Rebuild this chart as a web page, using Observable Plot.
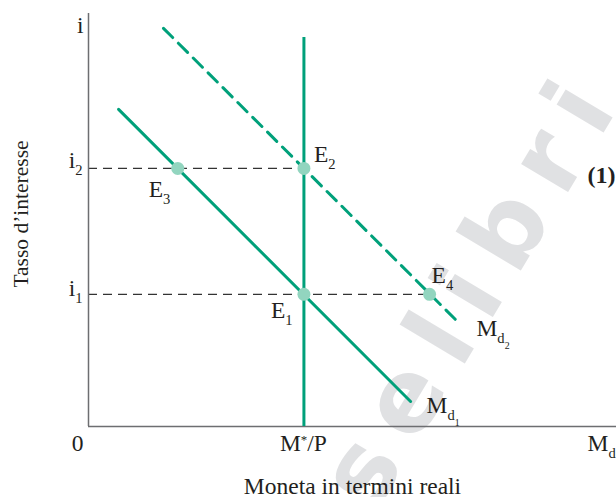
<!DOCTYPE html>
<html>
<head>
<meta charset="utf-8">
<script src="https://cdn.jsdelivr.net/npm/d3@7"></script>
<script src="https://cdn.jsdelivr.net/npm/@observablehq/plot@0.6"></script>
<style>
  html, body { margin: 0; padding: 0; background: #fff; }
  #chart svg { display: block; }
</style>
</head>
<body>
<div id="chart"></div>
<script>
// ---- data (abstract units of the diagram) ----
const curveNames = ["M_d__1", "M_d__2"];
const md1X = [5.7, 61.0];
const md1Y = [76.8, 6.05];
const md2X = [14.2, 69.5];
const md2Y = [96.4, 25.9];
const moneySupply = 40.8;      // M*/P
const supplyTop = 94.2;
const rateLabels = ["i_1", "i_2"];
const rateValues = [32.0, 62.5];
const eqNames = ["E_1", "E_2", "E_3", "E_4"];
const eqX = [40.8, 40.8, 16.9, 64.6];
const eqY = [32.0, 62.5, 62.5, 32.0];
const xTickLabels = ["0", "M^*/P", "M_d"];
const yAxisTop = ["i"];
const panelLabel = ["(1)"];
const xTitle = ["Moneta in termini reali"];
const yTitle = ["Tasso d’interesse"];
const watermark = ["selibri"];

// ---- styles ----
const GREEN = "#00a07a";
const DOT = "#92d5bf";
const AXIS = "#6d6e71";
const INK = "#231f20";
const SERIF = "'Liberation Serif', 'Times New Roman', Times, serif";
const FS = 23.5;

const md1 = md1X.map((x, i) => ({x, y: md1Y[i]}));
const md2 = md2X.map((x, i) => ({x, y: md2Y[i]}));
const eq = eqNames.map((name, i) => ({name, x: eqX[i], y: eqY[i]}));
const rateLines = [
  {y: rateValues[0], x2: eqX[3]},
  {y: rateValues[1], x2: eqX[1]}
];

function lab(x, y, text, dx, dy, anchor = "start", extra = {}) {
  return Plot.text([{x, y, text}], {
    x: "x", y: "y", text: "text", dx, dy,
    textAnchor: anchor, lineAnchor: "bottom",
    fontSize: FS, fontFamily: SERIF, fill: INK, ...extra
  });
}

const chart = Plot.plot({
  width: 616,
  height: 497,
  marginLeft: 88,
  marginRight: 0,
  marginTop: 13,
  marginBottom: 71,
  x: {domain: [0, 100], axis: null},
  y: {domain: [0, 100], axis: null},
  marks: [
    // watermark
    Plot.text(watermark, {
      x: () => 72.9, y: () => 33.7, text: d => d,
      rotate: -59, fontSize: 100, fontWeight: "bold",
      fontFamily: "'DejaVu Sans', sans-serif", fill: "#e0e1e3"
    }),
    // dashed reference lines for interest rates
    Plot.ruleY(rateLines, {
      y: "y", x1: 0, x2: "x2",
      stroke: "#333", strokeWidth: 1.2, strokeDasharray: "9,6"
    }),
    // axes
    Plot.ruleX([0], {y1: 0, y2: 100, stroke: AXIS, strokeWidth: 1.5}),
    Plot.ruleY([0], {x1: 0, x2: 100, stroke: AXIS, strokeWidth: 1.5}),
    // money supply
    Plot.ruleX([moneySupply], {y1: 0, y2: supplyTop, stroke: GREEN, strokeWidth: 3}),
    // money demand curves
    Plot.line(md1, {x: "x", y: "y", stroke: GREEN, strokeWidth: 3}),
    Plot.line(md2, {x: "x", y: "y", stroke: GREEN, strokeWidth: 3, strokeDasharray: "13,8"}),
    // equilibrium points
    Plot.dot(eq, {x: "x", y: "y", r: 6.5, fill: DOT}),
    // equilibrium labels
    lab(eqX[0], eqY[0], eqNames[0], -33, 24),
    lab(eqX[1], eqY[1], eqNames[1], 10, -6),
    lab(eqX[2], eqY[2], eqNames[2], -29, 29),
    lab(eqX[3], eqY[3], eqNames[3], 2, -11),
    // curve labels
    lab(md1X[1], md1Y[1], curveNames[0], 16, 11),
    lab(md2X[1], md2Y[1], curveNames[1], 21, 16),
    // y tick labels
    lab(0, rateValues[0], rateLabels[0], -6, 2, "end"),
    lab(0, rateValues[1], rateLabels[1], -6, 0, "end"),
    lab(0, 100, yAxisTop[0], -5, 19, "end"),
    // x tick labels
    lab(0, 0, xTickLabels[0], -11, 24, "middle"),
    lab(moneySupply, 0, xTickLabels[1], -24, 24, "start"),
    lab(100, 0, xTickLabels[2], -29, 24, "start"),
    // panel label
    Plot.text(panelLabel, {
      frameAnchor: "top-right", text: d => d, dx: -1, dy: 169,
      textAnchor: "end", lineAnchor: "bottom",
      fontSize: 24, fontWeight: "bold", fontFamily: SERIF, fill: INK
    }),
    // axis titles
    Plot.text(xTitle, {
      frameAnchor: "bottom", text: d => d, dy: 67, lineAnchor: "bottom",
      textAnchor: "middle",
      fontSize: FS, fontFamily: SERIF, fill: INK
    }),
    Plot.text(yTitle, {
      frameAnchor: "left", text: d => d, dx: -67, dy: -6, rotate: -90,
      textAnchor: "middle",
      fontSize: 21.5, fontFamily: SERIF, fill: INK
    })
  ]
});

document.getElementById("chart").append(chart);

// ---- rich text: "_" subscript, "__" sub-subscript, "^" superscript ----
const LEVELS = {
  "0": {shift: 0, scale: 1},
  "1": {shift: 7, scale: 0.62},
  "2": {shift: 13, scale: 0.42},
  "-1": {shift: -7, scale: 0.55}
};
function parseRich(s) {
  const out = [];
  let i = 0;
  while (i < s.length) {
    let lvl = 0;
    while (s[i] === "_" || s[i] === "^") { lvl += s[i] === "_" ? 1 : -1; i++; }
    const ch = s[i++];
    if (ch === undefined) break;
    const last = out[out.length - 1];
    if (last && last.lvl === lvl) last.text += ch;
    else out.push({lvl, text: ch});
  }
  return out;
}
d3.select(chart).selectAll("text").each(function () {
  const t = this.textContent;
  if (t === "selibri") { this.setAttribute("letter-spacing", "20"); return; }
  if (!/[_^]/.test(t)) return;
  const base = parseFloat(getComputedStyle(this).fontSize) || FS;
  const parts = parseRich(t);
  this.textContent = "";
  let prev = 0;
  for (const p of parts) {
    const L = LEVELS[String(p.lvl)] || LEVELS["0"];
    const ts = document.createElementNS("http://www.w3.org/2000/svg", "tspan");
    ts.setAttribute("font-size", (base * L.scale).toFixed(2));
    const dy = L.shift - prev;
    if (dy !== 0) ts.setAttribute("dy", dy);
    prev = L.shift;
    ts.textContent = p.text;
    this.appendChild(ts);
  }
});
</script>
</body>
</html>
